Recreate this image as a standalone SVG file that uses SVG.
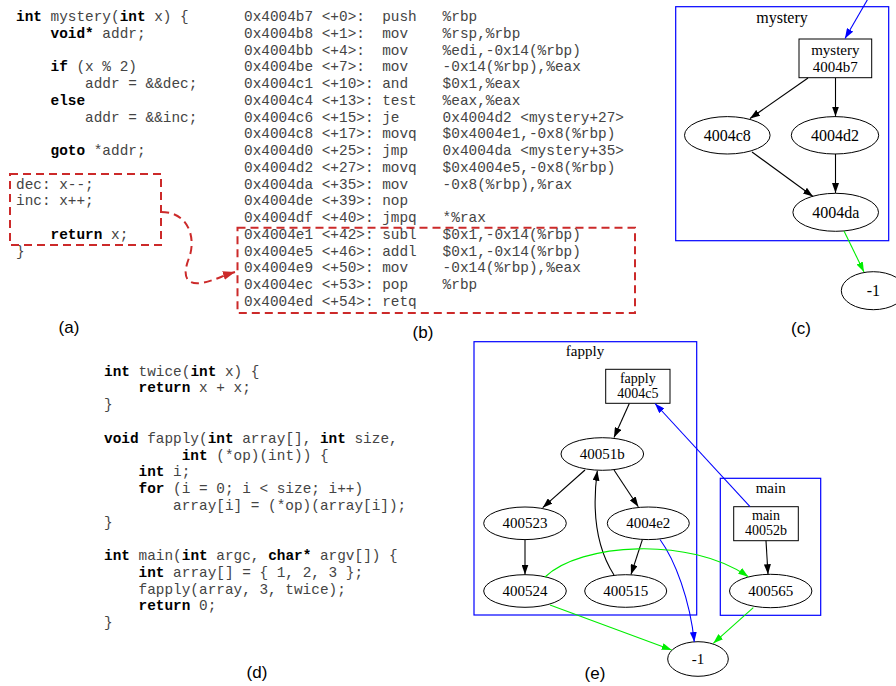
<svg xmlns="http://www.w3.org/2000/svg" width="896" height="686" viewBox="0 0 896 686">
<style>
.code{font-family:"Liberation Mono","Courier New",monospace;font-size:14.4px;fill:#444;white-space:pre}
.code .k{font-weight:bold;fill:#000}
.lab{font-family:"Liberation Sans",Arial,sans-serif;font-size:17px;fill:#000;text-anchor:middle}
.g1{font-family:"Liberation Serif","Times New Roman",serif;font-size:16px;fill:#000;text-anchor:middle}
.g2{font-family:"Liberation Serif","Times New Roman",serif;font-size:15px;fill:#000;text-anchor:middle}
.b1{font-family:"Liberation Serif","Times New Roman",serif;font-size:15px;fill:#000;text-anchor:middle}
.b2{font-family:"Liberation Serif","Times New Roman",serif;font-size:14px;fill:#000;text-anchor:middle}
.node{fill:#fff;stroke:#000;stroke-width:1}
.clu{fill:none;stroke:#0000ff;stroke-width:1.2}
.red{fill:none;stroke:#cc2a2a;stroke-width:2;stroke-dasharray:8 5}
.e{fill:none;stroke:#000;stroke-width:1.1}
.eb{fill:none;stroke:#0000ff;stroke-width:1.1}
.eg{fill:none;stroke:#00ee00;stroke-width:1.1}
</style>
<defs>
<marker id="ak" viewBox="0 0 10 7" refX="10" refY="3.5" markerWidth="10" markerHeight="7" markerUnits="userSpaceOnUse" orient="auto"><path d="M0,0L10,3.5L0,7z" fill="#000"/></marker>
<marker id="ab" viewBox="0 0 10 7" refX="10" refY="3.5" markerWidth="10" markerHeight="7" markerUnits="userSpaceOnUse" orient="auto"><path d="M0,0L10,3.5L0,7z" fill="#0000ff"/></marker>
<marker id="ag" viewBox="0 0 10 7" refX="10" refY="3.5" markerWidth="10" markerHeight="7" markerUnits="userSpaceOnUse" orient="auto"><path d="M0,0L10,3.5L0,7z" fill="#00ee00"/></marker>
<marker id="ar" viewBox="0 0 12 9" refX="12" refY="4.5" markerWidth="12" markerHeight="9" markerUnits="userSpaceOnUse" orient="auto"><path d="M0,0L12,4.5L0,9z" fill="#cc2a2a"/></marker>
</defs>

<g id="panel-a">
<text class="code" x="16" y="21"><tspan class="k">int</tspan> mystery(<tspan class="k">int</tspan> x) {</text>
<text class="code" x="16" y="37.76">    <tspan class="k">void*</tspan> addr;</text>
<text class="code" x="16" y="71.28">    <tspan class="k">if</tspan> (x % 2)</text>
<text class="code" x="16" y="88.04">        addr = &amp;&amp;dec;</text>
<text class="code" x="16" y="104.8">    <tspan class="k">else</tspan></text>
<text class="code" x="16" y="121.56">        addr = &amp;&amp;inc;</text>
<text class="code" x="16" y="155.08">    <tspan class="k">goto</tspan> *addr;</text>
<text class="code" x="16" y="188.6">dec: x--;</text>
<text class="code" x="16" y="205.36">inc: x++;</text>
<text class="code" x="16" y="238.88">    <tspan class="k">return</tspan> x;</text>
<text class="code" x="16" y="255.64">}</text>
<rect class="red" x="10" y="174" width="151" height="71"/>
<text class="lab" x="69" y="333">(a)</text>
</g>

<g id="panel-b">
<text class="code" x="244" y="21">0x4004b7 &lt;+0&gt;:  push   %rbp</text>
<text class="code" x="244" y="37.76">0x4004b8 &lt;+1&gt;:  mov    %rsp,%rbp</text>
<text class="code" x="244" y="54.52">0x4004bb &lt;+4&gt;:  mov    %edi,-0x14(%rbp)</text>
<text class="code" x="244" y="71.28">0x4004be &lt;+7&gt;:  mov    -0x14(%rbp),%eax</text>
<text class="code" x="244" y="88.04">0x4004c1 &lt;+10&gt;: and    $0x1,%eax</text>
<text class="code" x="244" y="104.8">0x4004c4 &lt;+13&gt;: test   %eax,%eax</text>
<text class="code" x="244" y="121.56">0x4004c6 &lt;+15&gt;: je     0x4004d2 &lt;mystery+27&gt;</text>
<text class="code" x="244" y="138.32">0x4004c8 &lt;+17&gt;: movq   $0x4004e1,-0x8(%rbp)</text>
<text class="code" x="244" y="155.08">0x4004d0 &lt;+25&gt;: jmp    0x4004da &lt;mystery+35&gt;</text>
<text class="code" x="244" y="171.84">0x4004d2 &lt;+27&gt;: movq   $0x4004e5,-0x8(%rbp)</text>
<text class="code" x="244" y="188.6">0x4004da &lt;+35&gt;: mov    -0x8(%rbp),%rax</text>
<text class="code" x="244" y="205.36">0x4004de &lt;+39&gt;: nop</text>
<text class="code" x="244" y="222.12">0x4004df &lt;+40&gt;: jmpq   *%rax</text>
<text class="code" x="244" y="238.88">0x4004e1 &lt;+42&gt;: subl   $0x1,-0x14(%rbp)</text>
<text class="code" x="244" y="255.64">0x4004e5 &lt;+46&gt;: addl   $0x1,-0x14(%rbp)</text>
<text class="code" x="244" y="272.4">0x4004e9 &lt;+50&gt;: mov    -0x14(%rbp),%eax</text>
<text class="code" x="244" y="289.16">0x4004ec &lt;+53&gt;: pop    %rbp</text>
<text class="code" x="244" y="305.92">0x4004ed &lt;+54&gt;: retq</text>
<rect class="red" x="237.5" y="227.7" width="397.5" height="85.3"/>
<text class="lab" x="423" y="338">(b)</text>
</g>

<g id="link-ab">
<path class="red" d="M161,212 C190,212 196,240 189,258 C182,276 186,285 201,283 C213,281 222,276 235,272" marker-end="url(#ar)"/>
</g>

<g id="panel-d">
<text class="code" x="104" y="375.7"><tspan class="k">int</tspan> twice(<tspan class="k">int</tspan> x) {</text>
<text class="code" x="104" y="392.46">    <tspan class="k">return</tspan> x + x;</text>
<text class="code" x="104" y="409.22">}</text>
<text class="code" x="104" y="442.74"><tspan class="k">void</tspan> fapply(<tspan class="k">int</tspan> array[], <tspan class="k">int</tspan> size,</text>
<text class="code" x="104" y="459.5">         <tspan class="k">int</tspan> (*op)(int)) {</text>
<text class="code" x="104" y="476.26">    <tspan class="k">int</tspan> i;</text>
<text class="code" x="104" y="493.02">    <tspan class="k">for</tspan> (i = 0; i &lt; size; i++)</text>
<text class="code" x="104" y="509.78">        array[i] = (*op)(array[i]);</text>
<text class="code" x="104" y="526.54">}</text>
<text class="code" x="104" y="560.06"><tspan class="k">int</tspan> main(<tspan class="k">int</tspan> argc, <tspan class="k">char*</tspan> argv[]) {</text>
<text class="code" x="104" y="576.82">    <tspan class="k">int</tspan> array[] = { 1, 2, 3 };</text>
<text class="code" x="104" y="593.58">    fapply(array, 3, twice);</text>
<text class="code" x="104" y="610.34">    <tspan class="k">return</tspan> 0;</text>
<text class="code" x="104" y="627.1">}</text>
<text class="lab" x="257" y="678">(d)</text>
</g>

<g id="panel-c">
<g id="cluster-mystery">
<rect class="clu" x="675.7" y="6.7" width="213" height="234"/>
<text class="g1" x="782" y="23">mystery</text>
</g>
<g id="c-mystery-4004b7">
<rect class="node" x="799" y="39" width="72.7" height="38.7"/>
<text class="b1" x="835.3" y="55">mystery</text>
<text class="b1" x="835.3" y="71.5">4004b7</text>
</g>
<g id="c-4004c8"><ellipse class="node" cx="727.3" cy="135.3" rx="42.8" ry="18.7"/><text class="g1" x="727.3" y="140.8">4004c8</text></g>
<g id="c-4004d2"><ellipse class="node" cx="835" cy="135.3" rx="43.7" ry="18.7"/><text class="g1" x="835" y="140.8">4004d2</text></g>
<g id="c-4004da"><ellipse class="node" cx="835.7" cy="212.3" rx="42.8" ry="19"/><text class="g1" x="835.7" y="217.8">4004da</text></g>
<g id="c-m1"><ellipse class="node" cx="873.3" cy="290.7" rx="32" ry="19"/><text class="g1" x="873.3" y="296">-1</text></g>
<g id="c-edges">
<path class="eb" d="M869,-3 L845,38.5" marker-end="url(#ab)"/>
<path class="e" d="M808,78 L750,118.5" marker-end="url(#ak)"/>
<path class="e" d="M835.5,78 L835.5,116.5" marker-end="url(#ak)"/>
<path class="e" d="M752,152 L813,196.5" marker-end="url(#ak)"/>
<path class="e" d="M835.5,154 L835.5,193" marker-end="url(#ak)"/>
<path class="eg" d="M844,231 L864,272" marker-end="url(#ag)"/>
</g>
<text class="lab" x="801" y="334">(c)</text>
</g>

<g id="panel-e">
<g id="cluster-fapply">
<rect class="clu" x="474" y="341.7" width="222.7" height="273.3"/>
<text class="g2" x="585" y="355.5">fapply</text>
</g>
<g id="cluster-main">
<rect class="clu" x="720.3" y="478.3" width="100.4" height="137"/>
<text class="g2" x="770.7" y="493">main</text>
</g>
<g id="e-fapply-4004c5">
<rect class="node" x="605.7" y="369.3" width="64.3" height="34"/>
<text class="b2" x="637.8" y="382.5">fapply</text>
<text class="b2" x="637.8" y="398">4004c5</text>
</g>
<g id="e-40051b"><ellipse class="node" cx="602.3" cy="454" rx="41.3" ry="16.3"/><text class="g2" x="602.3" y="459">40051b</text></g>
<g id="e-400523"><ellipse class="node" cx="525" cy="523.3" rx="41.3" ry="16.3"/><text class="g2" x="525" y="528.3">400523</text></g>
<g id="e-4004e2"><ellipse class="node" cx="648.3" cy="523.3" rx="41" ry="16.3"/><text class="g2" x="648.3" y="528.3">4004e2</text></g>
<g id="e-400524"><ellipse class="node" cx="525" cy="591" rx="41.3" ry="16.3"/><text class="g2" x="525" y="596">400524</text></g>
<g id="e-400515"><ellipse class="node" cx="625.7" cy="591" rx="41" ry="16.3"/><text class="g2" x="625.7" y="596">400515</text></g>
<g id="e-main-40052b">
<rect class="node" x="733.7" y="506.7" width="64.6" height="34"/>
<text class="b2" x="766" y="519.5">main</text>
<text class="b2" x="766" y="535">40052b</text>
</g>
<g id="e-400565"><ellipse class="node" cx="770.7" cy="591" rx="41.2" ry="16.7"/><text class="g2" x="770.7" y="596">400565</text></g>
<g id="e-m1"><ellipse class="node" cx="698" cy="659" rx="30.3" ry="17.3"/><text class="g2" x="698" y="664">-1</text></g>
<g id="e-edges">
<path class="e" d="M629.3,403.5 L614,437.5" marker-end="url(#ak)"/>
<path class="e" d="M585,470 L542.7,507.7" marker-end="url(#ak)"/>
<path class="e" d="M614,470 L638.3,506.7" marker-end="url(#ak)"/>
<path class="e" d="M525,539.8 L525,574.5" marker-end="url(#ak)"/>
<path class="e" d="M642.3,539.8 L631,574.5" marker-end="url(#ak)"/>
<path class="e" d="M614,575 C598,550 591,518 597.3,470.7" marker-end="url(#ak)"/>
<path class="eb" d="M750,506.7 L655,403.5" marker-end="url(#ab)"/>
<path class="eb" d="M660,539.5 C675,560 690,600 694.3,642" marker-end="url(#ab)"/>
<path class="e" d="M766,540.8 L768,574.3" marker-end="url(#ak)"/>
<path class="eg" d="M545,577 C580,543 690,536 748.3,576.7" marker-end="url(#ag)"/>
<path class="eg" d="M550,605 L671.7,650" marker-end="url(#ag)"/>
<path class="eg" d="M753.3,607.7 L713.3,643.3" marker-end="url(#ag)"/>
</g>
<text class="lab" x="595" y="679">(e)</text>
</g>
</svg>
